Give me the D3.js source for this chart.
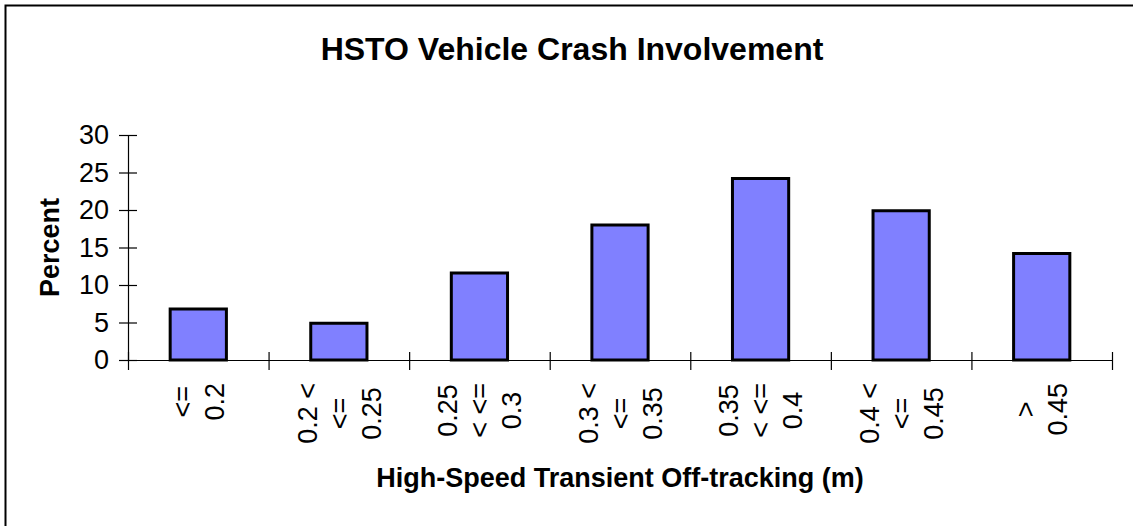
<!DOCTYPE html>
<html>
<head>
<meta charset="utf-8">
<script src="https://cdn.jsdelivr.net/npm/d3@7"></script>
<style>
  body { margin: 0; background: #fff; }
  text { font-family: Arial, "Liberation Sans", sans-serif; fill: #000; }
</style>
</head>
<body>
<div id="chart"></div>
<script>
// Data
var categories = ["<= 0.2", "0.2 < <= 0.25", "0.25 < <= 0.3", "0.3 < <= 0.35", "0.35 < <= 0.4", "0.4 < <= 0.45", "> 0.45"];
var labelLines = [
  ["<=", "0.2"],
  ["0.2 <", "<=", "0.25"],
  ["0.25", "< <=", "0.3"],
  ["0.3 <", "<=", "0.35"],
  ["0.35", "< <=", "0.4"],
  ["0.4 <", "<=", "0.45"],
  [">", "0.45"]
];
var percents = [6.8, 4.9, 11.6, 18.0, 24.2, 19.9, 14.2];
var yTicks = [0, 5, 10, 15, 20, 25, 30];

var svgWidth = 1133;
var svgHeight = 526;

var margin = { top: 135, right: 21, bottom: 166, left: 128 };
var width = svgWidth - margin.left - margin.right;
var height = svgHeight - margin.top - margin.bottom;

var svg = d3.select("#chart")
  .append("svg")
  .attr("width", svgWidth)
  .attr("height", svgHeight);

// outer frame (runs off the right and bottom edges like the reference)
svg.append("rect")
  .attr("x", 5.5)
  .attr("y", 5.5)
  .attr("width", 1200)
  .attr("height", 600)
  .attr("fill", "#fff")
  .attr("stroke", "#000")
  .attr("stroke-width", 2);

var chartGroup = svg.append("g")
  .attr("transform", `translate(${margin.left}, ${margin.top})`);

// scales
var x = d3.scaleBand()
  .domain(categories)
  .range([0, width])
  .paddingInner(0.6)
  .paddingOuter(0.3);

var y = d3.scaleLinear()
  .domain([0, 30])
  .range([height, 0]);

// y axis
var leftAxis = d3.axisLeft(y)
  .tickValues(yTicks)
  .tickSize(9)
  .tickPadding(10)
  .tickSizeOuter(0);

var yAxisG = chartGroup.append("g").call(leftAxis);
yAxisG.selectAll(".tick line").attr("x1", 9).attr("stroke", "#000").attr("stroke-width", 1.2);
yAxisG.select(".domain").attr("stroke", "#000").attr("stroke-width", 1.2);
yAxisG.selectAll("text")
  .style("font-size", "27px")
  .style("font-family", "Arial, 'Liberation Sans', sans-serif")
  .attr("fill", "#000");

// x axis: ticks sit on the category boundaries
var boundaries = d3.range(categories.length + 1).map(i => i * x.step());
var xEdge = d3.scaleLinear().domain([0, width]).range([0, width]);
var bottomAxis = d3.axisBottom(xEdge)
  .tickValues(boundaries)
  .tickFormat("")
  .tickSize(10)
  .tickSizeOuter(0);

var xAxisG = chartGroup.append("g")
  .attr("transform", `translate(0, ${height})`)
  .call(bottomAxis);
xAxisG.selectAll(".tick line").attr("y1", -8).attr("stroke", "#000").attr("stroke-width", 1.2);
xAxisG.select(".domain").attr("stroke", "#000").attr("stroke-width", 1.2);

// bars
chartGroup.selectAll("rect.bar")
  .data(percents)
  .enter()
  .append("rect")
  .attr("class", "bar")
  .attr("x", (d, i) => x(categories[i]))
  .attr("y", d => y(d))
  .attr("width", x.bandwidth())
  .attr("height", d => y(0) - y(d))
  .attr("fill", "#8080FF")
  .attr("stroke", "#000")
  .attr("stroke-width", 3);

// rotated, wrapped category labels
var lineHeight = 32;
var labelGroups = chartGroup.selectAll("g.xlabel")
  .data(labelLines)
  .enter()
  .append("g")
  .attr("class", "xlabel")
  .attr("transform", (d, i) => `translate(${x(categories[i]) + x.bandwidth() / 2}, ${height + 23}) rotate(-90)`);

labelGroups.each(function(lines) {
  var g = d3.select(this);
  var texts = lines.map(function(line, j) {
    return g.append("text")
      .style("font-size", "27px")
      .attr("text-anchor", "middle")
      .attr("y", (j - (lines.length - 1) / 2) * lineHeight + 9.7)
      .text(line);
  });
  var w = d3.max(texts, t => t.node().getComputedTextLength());
  texts.forEach(t => t.attr("x", -w / 2));
});

// titles
svg.append("text")
  .attr("x", 572)
  .attr("y", 60)
  .attr("text-anchor", "middle")
  .style("font-size", "32px")
  .style("font-weight", "bold")
  .text("HSTO Vehicle Crash Involvement");

chartGroup.append("text")
  .attr("x", width / 2)
  .attr("y", 487 - margin.top)
  .attr("text-anchor", "middle")
  .style("font-size", "27px")
  .style("font-weight", "bold")
  .text("High-Speed Transient Off-tracking (m)");

chartGroup.append("text")
  .attr("transform", "rotate(-90)")
  .attr("x", 0 - (height / 2))
  .attr("y", 59 - margin.left)
  .attr("text-anchor", "middle")
  .style("font-size", "27px")
  .style("font-weight", "bold")
  .text("Percent");
</script>
</body>
</html>
